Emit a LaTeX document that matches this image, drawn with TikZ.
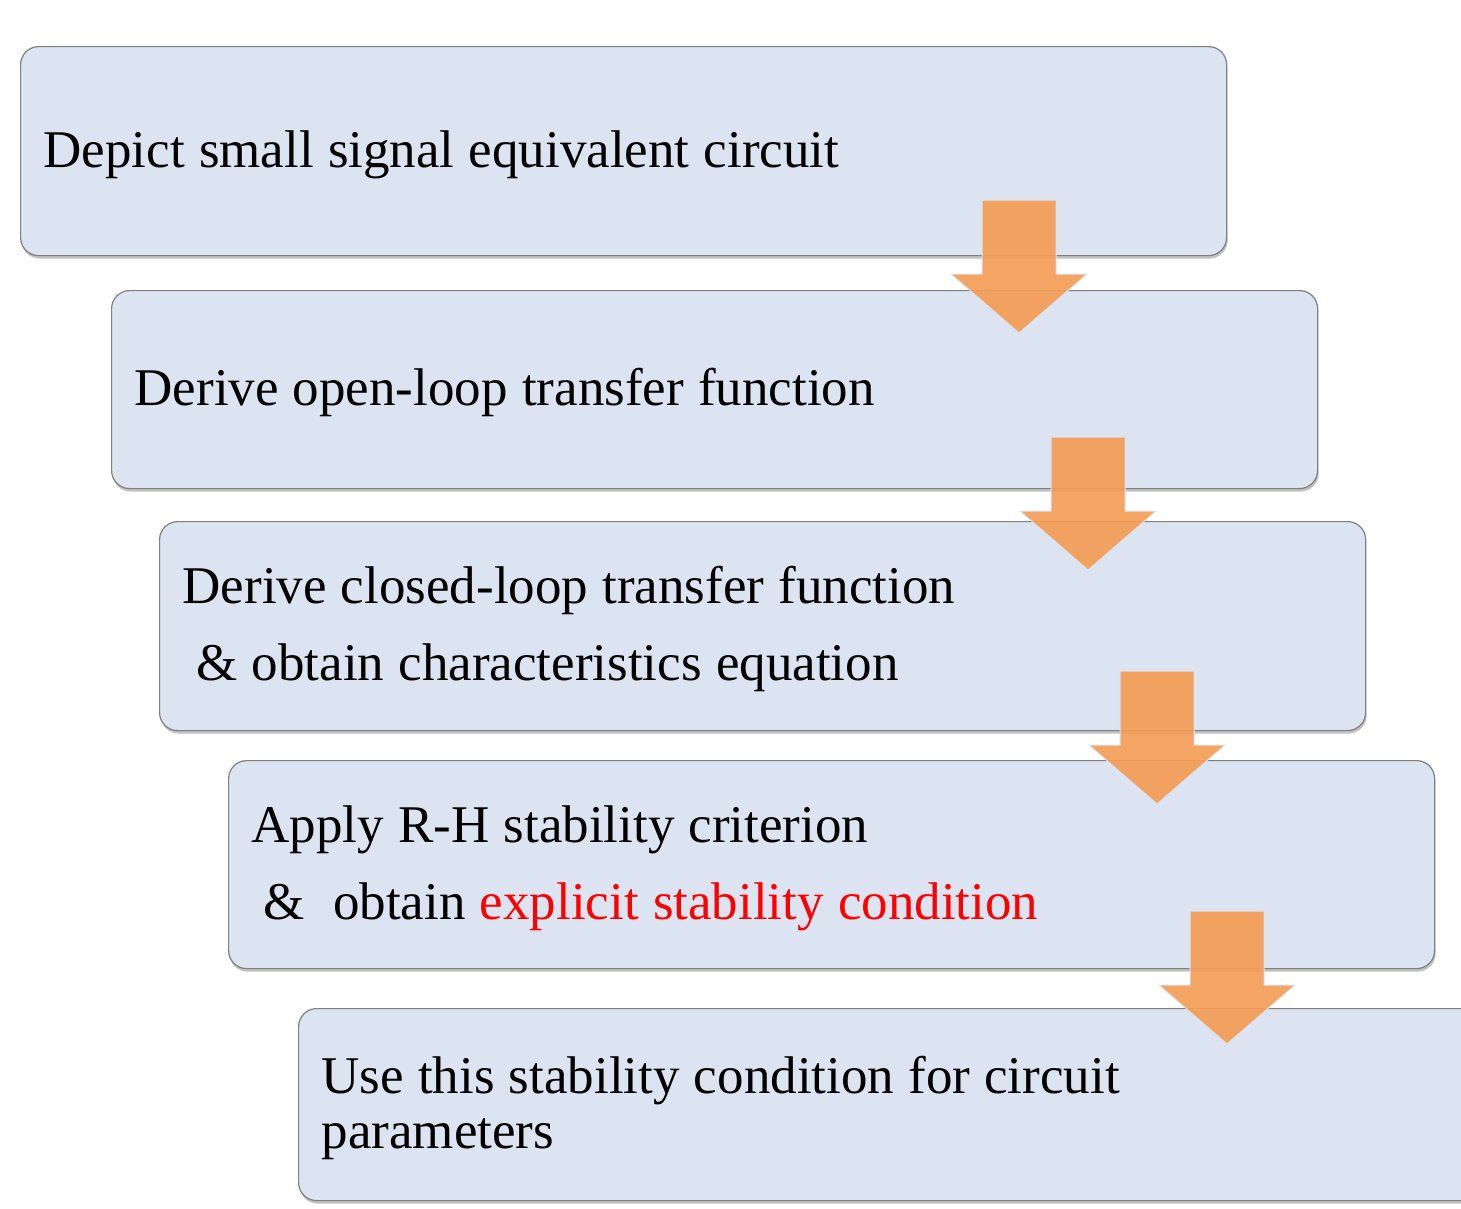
\documentclass[tikz,border=0pt]{standalone}
\usepackage{fontspec}
\setmainfont{Liberation Serif}
\usetikzlibrary{shadows}
\definecolor{boxfill}{RGB}{219,228,240}
\definecolor{boxline}{RGB}{128,128,128}
\definecolor{arrowfill}{RGB}{243,157,87}
\definecolor{arrowline}{RGB}{222,226,240}

\begin{document}
\begin{tikzpicture}[x=1pt,y=-1pt,
  box node/.style={draw=boxline,line width=1.2pt,fill=boxfill,rounded corners=18pt,
    drop shadow={shadow xshift=1pt,shadow yshift=-3pt,opacity=0.35,fill=black!70},
    anchor=north west,text width=1160pt,inner xsep=23pt,inner ysep=0pt,align=left,
    execute at begin node={\spaceskip=14.2pt plus 1pt minus 1pt\relax\rule{0pt}{44pt}},
    font=\fontsize{53}{77}\selectfont},
  flow arrow/.style={fill=arrowfill,draw=arrowline,line width=1pt,fill opacity=0.93}]
  \useasboundingbox (0,0) rectangle (1461,1208);
  \clip (0,0) rectangle (1461,1208);

  \node[box node,minimum height=209pt] (depict) at (20,46) {Depict small signal equivalent circuit};
  \node[box node,minimum height=198pt] (openloop) at (111,290) {Derive open-loop transfer function};
  \node[box node,minimum height=209pt] (closedloop) at (159,521)
    {Derive closed-loop transfer function\\\hspace*{14pt}\& obtain characteristics equation};
  \node[box node,minimum height=208pt] (rhcrit) at (228,760)
    {Apply R-H stability criterion\\\hspace*{12pt}\&\ \ obtain \textcolor{red}{explicit stability condition}};
  \node[box node,minimum height=192pt,font=\fontsize{53}{55}\selectfont] (useit) at (298,1008)
    {Use this stability condition for circuit\\parameters};

  % block arrows between the steps
  \foreach \cx/\ty in {1019/200, 1088/437, 1157/671, 1227/911}
    \draw[flow arrow] (\cx-37,\ty) -- (\cx+37,\ty) -- (\cx+37,\ty+74) -- (\cx+68,\ty+74)
      -- (\cx,\ty+133) -- (\cx-68,\ty+74) -- (\cx-37,\ty+74) -- cycle;
\end{tikzpicture}
\end{document}
